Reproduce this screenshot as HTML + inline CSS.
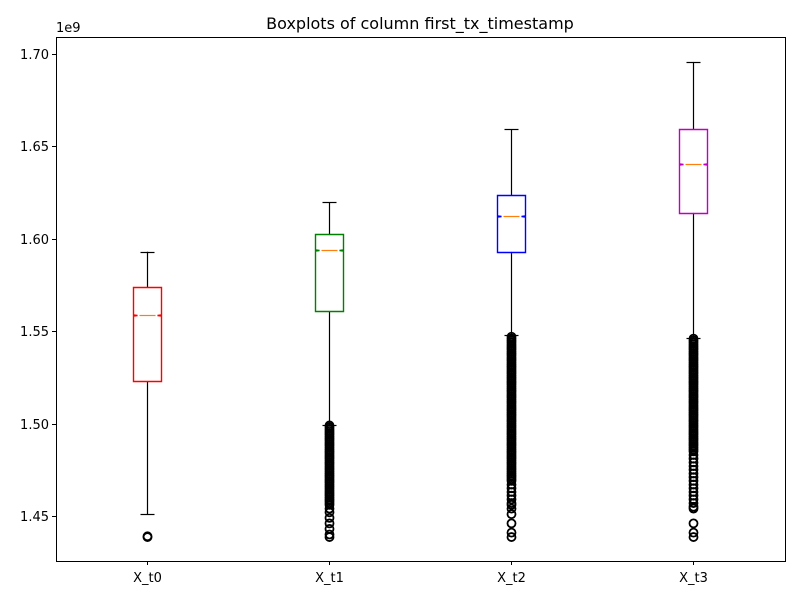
<!DOCTYPE html>
<html><head><meta charset="utf-8"><style>
body{margin:0;background:#fff;}
svg{font-family:"DejaVu Sans","Liberation Sans",sans-serif;}
</style></head><body>
<svg id="chart" width="800" height="600">
<rect x="0" y="0" width="800" height="600" fill="#fff"/>
<text x="420" y="29" font-size="16" text-anchor="middle">Boxplots of column first_tx_timestamp</text>
<text x="56" y="32" font-size="13">1e9</text>
<g id="yaxis"></g>
<g id="xaxis"></g>
<g id="boxes"></g>
<rect x="56.5" y="37.5" width="729" height="524" fill="none" stroke="#000" stroke-width="1"/>
</svg>
<script>
const categories = ["X_t0","X_t1","X_t2","X_t3"];
const colors = ["#ff0000","#008000","#0000ff","#bf00bf"];
const whiskerLow = [1.4511,1.4992,1.548,1.5463];
const q1 = [1.523,1.5609,1.5929,1.614];
const medians = [1.5588,1.5939,1.6123,1.6405];
const q3 = [1.5739,1.6026,1.6237,1.6594];
const whiskerHigh = [1.593,1.6199,1.6594,1.6957];
const yTicks = [1.45,1.50,1.55,1.60,1.65,1.70];
const yTickLabels = ["1.45","1.50","1.55","1.60","1.65","1.70"];
const outliers0 = [1.4386,1.4390];
const outliers1 = [1.499,1.498,1.497,1.496,1.495,1.494,1.493,1.492,1.491,1.490,1.489,1.488,1.487,1.486,1.485,1.484,1.483,1.482,1.481,1.480,1.479,1.478,1.477,1.476,1.475,1.474,1.473,1.472,1.471,1.470,1.469,1.468,1.467,1.466,1.465,1.464,1.463,1.462,1.461,1.460,1.459,1.458,1.457,1.456,1.454,1.452,1.449,1.446,1.443,1.440,1.4386];
const outliers2 = [1.547,1.546,1.545,1.544,1.543,1.542,1.541,1.540,1.539,1.538,1.537,1.536,1.535,1.534,1.533,1.532,1.531,1.530,1.529,1.528,1.527,1.526,1.525,1.524,1.523,1.522,1.521,1.520,1.519,1.518,1.517,1.516,1.515,1.514,1.513,1.512,1.511,1.510,1.509,1.508,1.507,1.506,1.505,1.504,1.503,1.502,1.501,1.500,1.499,1.498,1.497,1.496,1.495,1.494,1.493,1.492,1.491,1.490,1.489,1.488,1.487,1.486,1.485,1.484,1.483,1.482,1.481,1.480,1.479,1.478,1.477,1.476,1.475,1.474,1.473,1.472,1.471,1.470,1.469,1.467,1.465,1.463,1.461,1.459,1.457,1.456,1.454,1.451,1.446,1.441,1.4386];
const outliers3 = [1.546,1.545,1.544,1.543,1.542,1.541,1.540,1.539,1.538,1.537,1.536,1.535,1.534,1.533,1.532,1.531,1.530,1.529,1.528,1.527,1.526,1.525,1.524,1.523,1.522,1.521,1.520,1.519,1.518,1.517,1.516,1.515,1.514,1.513,1.512,1.511,1.510,1.509,1.508,1.507,1.506,1.505,1.504,1.503,1.502,1.501,1.500,1.499,1.498,1.497,1.496,1.495,1.494,1.493,1.492,1.491,1.490,1.489,1.488,1.487,1.486,1.485,1.483,1.481,1.479,1.477,1.475,1.473,1.471,1.469,1.467,1.465,1.463,1.461,1.459,1.457,1.455,1.454,1.446,1.441,1.4386];
const outliers = [outliers0,outliers1,outliers2,outliers3];

const NS="http://www.w3.org/2000/svg";
function y(v){ return 54 + (1.70 - v)/0.05*92.4; }
function x(i){ return 147 + i*182; }
function mk(tag, attrs, parent){ const e=document.createElementNS(NS,tag); for(const k in attrs) e.setAttribute(k,attrs[k]); parent.appendChild(e); return e; }

const ya=document.getElementById('yaxis');
yTicks.forEach((t,i)=>{
  const yy=Math.round(y(t))+0.5;
  const tk=mk('line',{x1:52,x2:56,y1:yy,y2:yy,stroke:'#000'},ya);
  
  
  const lb=mk('text',{x:49,y:yy+4.5,'font-size':13,'text-anchor':'end'},ya);
  lb.textContent=yTickLabels[i];
  
  
});
const xa=document.getElementById('xaxis');
categories.forEach((c,i)=>{
  const xx=x(i)+0.5;
  const tk=mk('line',{x1:xx,x2:xx,y1:561,y2:565,stroke:'#000'},xa);
  
  
  const lb=mk('text',{x:xx,y:582,'font-size':13,'text-anchor':'middle'},xa);
  lb.textContent=c;
  
  
});

const bx=document.getElementById('boxes');
categories.forEach((c,i)=>{
  const cx=x(i)+0.5, hw=14, cw=7, nd=4;
  const g=mk('g',{},bx);
  
  
  const w1=mk('line',{x1:cx,x2:cx,y1:y(q3[i]),y2:y(whiskerHigh[i]),stroke:'#000','stroke-width':1.2},g);
  
  
  const w2=mk('line',{x1:cx,x2:cx,y1:y(q1[i]),y2:y(whiskerLow[i]),stroke:'#000','stroke-width':1.2},g);
  
  
  const c1=mk('line',{x1:cx-cw,x2:cx+cw,y1:Math.round(y(whiskerHigh[i]))+0.5,y2:Math.round(y(whiskerHigh[i]))+0.5,stroke:'#000','stroke-width':1.2},g);
  
  
  const c2=mk('line',{x1:cx-cw,x2:cx+cw,y1:Math.round(y(whiskerLow[i]))+0.5,y2:Math.round(y(whiskerLow[i]))+0.5,stroke:'#000','stroke-width':1.2},g);
  
  
  const top=Math.round(y(q3[i]))+0.5, bot=Math.round(y(q1[i]))+0.5, m=Math.round(y(medians[i]))+0.5;
  const d=`M${cx-hw},${bot} L${cx-hw},${m+0.5} L${cx-hw+nd},${m} L${cx-hw},${m-0.5} L${cx-hw},${top} L${cx+hw},${top} L${cx+hw},${m-0.5} L${cx+hw-nd},${m} L${cx+hw},${m+0.5} L${cx+hw},${bot} Z`;
  const b=mk('path',{d:d,fill:'none',stroke:colors[i],'stroke-width':1.4},g);
  
  
  const md=mk('line',{x1:cx-hw+nd+2,x2:cx+hw-nd-2,y1:m,y2:m,stroke:'#ff7f0e','stroke-width':1.2},g);
  
  
  outliers[i].forEach(v=>{
    const o=mk('circle',{cx:cx,cy:y(v),r:4,fill:'none',stroke:'#000','stroke-width':1.8},g);
    
    
  });
});
</script>
</body></html>
